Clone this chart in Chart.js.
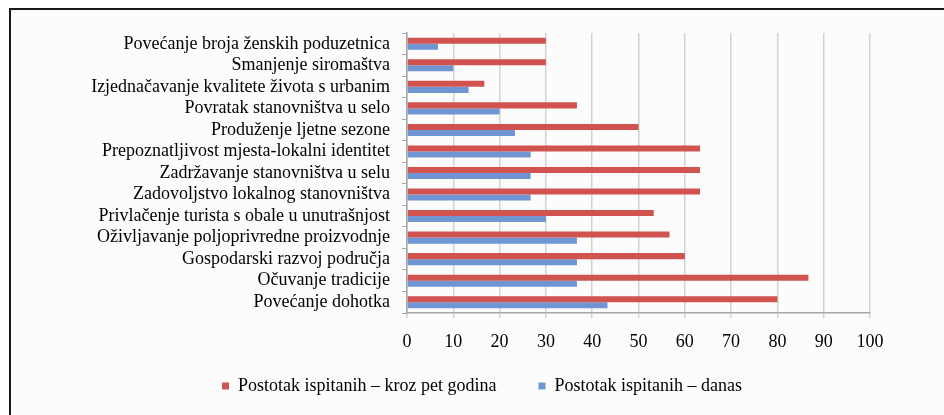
<!DOCTYPE html>
<html>
<head>
<meta charset="utf-8">
<script src="https://cdn.jsdelivr.net/npm/chart.js@4/dist/chart.umd.min.js"></script>
<style>
  html, body { margin: 0; padding: 0; background: #ffffff; overflow: hidden; }
  #frame {
    position: absolute; left: 9px; top: 8px;
    width: 940px; height: 410px;
    border-left: 2px solid #1a1a1a; border-top: 2px solid #1a1a1a;
    background: #fcfcfc;
  }
  #wrap { position: absolute; left: 0; top: 0; width: 933px; height: 405px; }
</style>
</head>
<body>
<div id="frame"><div id="wrap"><canvas id="chart"></canvas></div></div>
<script>
// kategorije (odozgo prema dolje)
const categories = [
  'Povećanje broja ženskih poduzetnica',
  'Smanjenje siromaštva',
  'Izjednačavanje kvalitete života s urbanim',
  'Povratak stanovništva u selo',
  'Produženje ljetne sezone',
  'Prepoznatljivost mjesta-lokalni identitet',
  'Zadržavanje stanovništva u selu',
  'Zadovoljstvo lokalnog stanovništva',
  'Privlačenje turista s obale u unutrašnjost',
  'Oživljavanje poljoprivredne proizvodnje',
  'Gospodarski razvoj područja',
  'Očuvanje tradicije',
  'Povećanje dohotka'
];

// vrijednosti (%)
const krozPetGodina = [30, 30, 16.7, 36.7, 50, 63.3, 63.3, 63.3, 53.3, 56.7, 60, 86.7, 80];
const danas = [6.7, 10, 13.3, 20, 23.3, 26.7, 26.7, 26.7, 30, 36.7, 36.7, 36.7, 43.3];

const seriesNames = ['Postotak ispitanih – kroz pet godina', 'Postotak ispitanih – danas'];
const xTicks = [0, 10, 20, 30, 40, 50, 60, 70, 80, 90, 100];

const font = { family: "'Liberation Serif', 'Times New Roman', serif", size: 18 };

// legenda centrirana na cijelom okviru, kao u Excelu
const legendFullWidth = {
  id: 'legendFullWidth',
  afterLayout(chart) {
    chart.legend.left = 9;
    chart.legend.right = chart.width;
  }
};

new Chart(document.getElementById('chart'), {
  type: 'bar',
  data: {
    labels: categories,
    datasets: [
      { label: seriesNames[0], data: krozPetGodina, backgroundColor: '#D05350', borderWidth: 0 },
      { label: seriesNames[1], data: danas, backgroundColor: '#6F95D3', borderWidth: 0 }
    ]
  },
  options: {
    indexAxis: 'y',
    responsive: true,
    maintainAspectRatio: false,
    animation: false,
    categoryPercentage: 0.56,
    barPercentage: 1,
    layout: { padding: { top: 23, right: 74, bottom: 10, left: 0 } },
    plugins: {
      tooltip: { enabled: false },
      legend: {
        position: 'bottom',
        labels: {
          color: '#000', font: font, boxWidth: 7, boxHeight: 7, padding: 24,
          generateLabels: chart => {
            const items = Chart.defaults.plugins.legend.labels.generateLabels(chart);
            items[0].text += '\u00a0'.repeat(4);
            return items;
          }
        }
      }
    },
    scales: {
      x: {
        min: xTicks[0],
        max: xTicks[xTicks.length - 1],
        afterBuildTicks: s => { s.ticks = xTicks.map(v => ({ value: v })); },
        afterFit: s => { s.height = 40; },
        grid: { color: '#d2d2d2', lineWidth: 1.5, tickLength: 5 },
        border: { color: '#a6a6a6', width: 1.5 },
        ticks: { color: '#000', font: font, padding: 13, maxRotation: 0 }
      },
      y: {
        afterFit: s => { s.width = 396; },
        grid: { offset: true, drawOnChartArea: false, color: '#a6a6a6', tickLength: 5 },
        border: { color: '#a6a6a6', width: 1.5 },
        ticks: { color: '#000', font: font, padding: 12, autoSkip: false }
      }
    }
  },
  plugins: [legendFullWidth]
});
</script>
</body>
</html>
